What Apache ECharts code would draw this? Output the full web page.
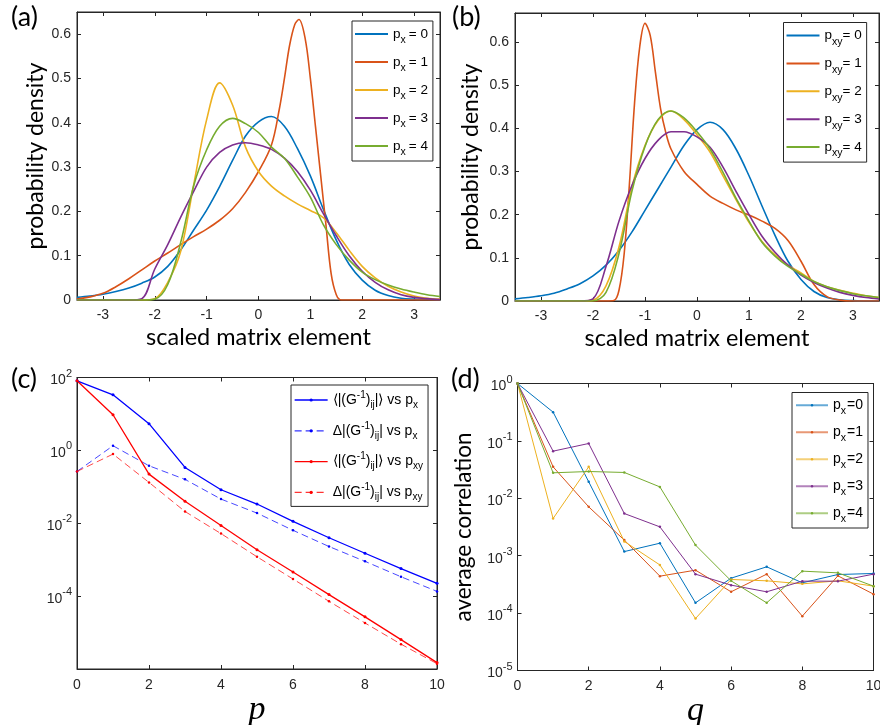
<!DOCTYPE html>
<html><head><meta charset="utf-8">
<script src="https://cdn.jsdelivr.net/npm/echarts@6/dist/echarts.min.js"></script>
<style>html,body{margin:0;padding:0;background:#fff}#c{width:880px;height:725px}</style>
</head><body><div id="c"></div>
<script>
// ---------- data ----------
const densX = [-3.5,-3.25,-3,-2.75,-2.5,-2.25,-2,-1.75,-1.5,-1.25,-1,-0.75,-0.5,-0.25,0,0.25,0.5,0.75,1,1.25,1.5,1.75,2,2.25,2.5,2.75,3,3.25,3.5];
const densTicks = [-3,-2,-1,0,1,2,3];
const densYTicks = [0,0.1,0.2,0.3,0.4,0.5,0.6];

// panel (a): p_x = 0..4
const aPx0 = [0.006,0.009,0.013,0.019,0.027,0.038,0.052,0.076,0.113,0.158,0.203,0.256,0.315,0.37,0.402,0.414,0.392,0.342,0.28,0.205,0.135,0.08,0.045,0.022,0.01,0.004,0.002,0.001,0];
const aPx1X = [-3.5,-3.25,-3,-2.75,-2.5,-2.25,-2,-1.75,-1.5,-1.25,-1,-0.75,-0.5,-0.25,0,0.25,0.4,0.5,0.6,0.7,0.78,0.9,1,1.1,1.2,1.3,1.4,1.5,1.6,1.75,2,2.5,3,3.5];
const aPx1 = [0.002,0.007,0.015,0.03,0.048,0.068,0.088,0.106,0.125,0.143,0.16,0.18,0.206,0.243,0.29,0.35,0.43,0.5,0.575,0.622,0.633,0.59,0.5,0.39,0.28,0.17,0.06,0.012,0,0,0,0,0,0];
const aPx2 = [0,0,0,0,0,0,0.003,0.04,0.11,0.26,0.407,0.49,0.44,0.345,0.29,0.257,0.235,0.217,0.202,0.186,0.152,0.112,0.076,0.05,0.031,0.018,0.009,0.004,0.002];
const aPx3 = [0,0,0,0,0,0.003,0.07,0.125,0.187,0.245,0.3,0.333,0.35,0.355,0.35,0.34,0.32,0.29,0.248,0.195,0.145,0.1,0.065,0.04,0.023,0.012,0.006,0.003,0.001];
const aPx4 = [0,0,0,0,0,0,0.002,0.035,0.13,0.258,0.339,0.392,0.41,0.398,0.378,0.345,0.32,0.278,0.232,0.17,0.125,0.09,0.063,0.046,0.034,0.025,0.018,0.012,0.008];

// panel (b): p_xy = 0..4
const bPxy0 = [0.005,0.008,0.012,0.018,0.028,0.04,0.058,0.083,0.117,0.16,0.21,0.26,0.31,0.36,0.397,0.414,0.397,0.352,0.29,0.22,0.152,0.092,0.05,0.022,0.008,0.003,0.001,0,0];
const bPxy1X = [-3.5,-3,-2.5,-2,-1.75,-1.6,-1.5,-1.4,-1.3,-1.2,-1.1,-1,-0.9,-0.8,-0.7,-0.6,-0.5,-0.25,0,0.25,0.5,0.75,1,1.25,1.5,1.75,2,2.25,2.5,2.75,3,3.5];
const bPxy1 = [0,0,0,0,0,0.001,0.025,0.11,0.27,0.46,0.59,0.643,0.615,0.53,0.445,0.39,0.352,0.3,0.27,0.243,0.226,0.211,0.199,0.185,0.168,0.14,0.092,0.038,0.01,0.002,0,0];
const bPxy2 = [0,0,0,0,0,0,0.002,0.035,0.125,0.265,0.36,0.418,0.44,0.42,0.385,0.345,0.29,0.235,0.182,0.138,0.107,0.083,0.065,0.045,0.033,0.025,0.018,0.012,0.008];
const bPxy3 = [0,0,0,0,0,0,0.005,0.08,0.185,0.268,0.33,0.372,0.392,0.392,0.38,0.356,0.31,0.254,0.2,0.15,0.113,0.083,0.06,0.043,0.03,0.02,0.013,0.008,0.005];
const bPxy4 = [0,0,0,0,0,0,0,0.02,0.11,0.255,0.358,0.42,0.44,0.424,0.392,0.352,0.298,0.238,0.185,0.136,0.104,0.08,0.062,0.045,0.033,0.024,0.017,0.012,0.008];

// panel (c)
const pValues = [0,1,2,3,4,5,6,7,8,9,10];
const cMeanPx  = [81,33.5,5.4,0.34,0.083,0.0337,0.0113,0.004,0.0015,5.7e-4,2.24e-4];
const cStdPx   = [0.264,1.34,0.378,0.16,0.046,0.019,0.0064,0.0023,9e-4,3.4e-4,1.35e-4];
const cMeanPxy = [81,9.5,0.223,0.04,0.0087,0.00188,4.6e-4,1.1e-4,2.7e-5,6.4e-6,1.5e-6];
const cStdPxy  = [0.264,0.79,0.132,0.021,0.0052,0.0012,2.95e-4,7.2e-5,1.83e-5,4.8e-6,1.4e-6];

// panel (d)
const qValues = [0,1,2,3,4,5,6,7,8,9,10];
const dPx0 = [1,0.317,0.0194,0.00118,0.00165,1.51e-4,4.06e-4,6.4e-4,3.37e-4,4.7e-4,4.9e-4];
const dPx1 = [1,0.0353,0.0071,0.00187,4.4e-4,5.6e-4,2.35e-4,4.77e-4,8.85e-5,4.46e-4,2.14e-4];
const dPx2 = [1,0.00445,0.0353,0.00177,6.9e-4,8.05e-5,3.85e-4,3.65e-4,3.23e-4,3.65e-4,2.95e-4];
const dPx3 = [1,0.0663,0.0901,0.00543,0.00318,4.77e-4,3.07e-4,2.35e-4,3.6e-4,3.6e-4,4.77e-4];
const dPx4 = [1,0.0278,0.0293,0.0282,0.0158,0.00153,3.65e-4,1.51e-4,5.38e-4,5.03e-4,2.95e-4];

const matlabColors = ['#0072BD','#D95319','#EDB120','#7E2F8E','#77AC30'];

// ---------- helpers ----------
const FONT = '"Liberation Sans", Arial, sans-serif';
const TFONT = 'Lato, "Open Sans", sans-serif';
const AX = '#262626';
const zip = (xs, ys) => xs.map((x, i) => [x, ys[i]]);

function linAxis(dim, grid, pos, min, max, ticks, labels, extra) {
  return Object.assign({
    type: 'value', gridIndex: grid, position: pos, min: min, max: max,
    axisLine: {show: true, onZero: false, lineStyle: {color: AX, width: 1}},
    axisTick: {show: true, inside: true, length: 4, customValues: ticks, lineStyle: {color: AX}},
    axisLabel: {show: labels, customValues: ticks, color: AX, fontFamily: FONT, fontSize: 14, margin: dim === 'x' ? 8 : 6},
    splitLine: {show: false}
  }, extra || {});
}
function numAxis(grid, pos, min, max, interval, labels, extra) {
  return Object.assign({
    type: 'value', gridIndex: grid, position: pos, min: min, max: max, interval: interval,
    axisLine: {show: true, onZero: false, lineStyle: {color: AX, width: 1}},
    axisTick: {show: true, inside: true, length: 4, lineStyle: {color: AX}},
    axisLabel: {show: labels, color: AX, fontFamily: FONT, fontSize: 14, margin: 9},
    splitLine: {show: false}
  }, extra || {});
}
function logAxis(grid, pos, min, max, interval, labels, hide, extra) {
  return Object.assign({
    type: 'log', logBase: 10, gridIndex: grid, position: pos, min: min, max: max, interval: interval,
    axisLine: {show: true, onZero: false, lineStyle: {color: AX, width: 1}},
    axisTick: {show: true, inside: true, length: 4, lineStyle: {color: AX}},
    axisLabel: {
      show: labels, margin: 5,
      formatter: function (v) {
        const l = Math.log10(v); const e = Math.round(l);
        if (Math.abs(l - e) > 0.01 || hide.indexOf(e) >= 0) return '';
        return '{b|10}{s|' + e + '}';
      },
      rich: {
        b: {fontFamily: FONT, fontSize: 14, color: AX, lineHeight: 20, padding: [6, 0, 0, 0]},
        s: {fontFamily: FONT, fontSize: 11, color: AX, lineHeight: 18, padding: [0, 0, 8, 0]}
      }
    },
    splitLine: {show: false}
  }, extra || {});
}
function nameStyle(size, family, italic) {
  return {fontFamily: family, fontSize: size, color: '#000', fontStyle: italic ? 'italic' : 'normal'};
}

// ---------- axes ----------
const xAxis = [
  linAxis('x', 0, 'bottom', -3.5, 3.5, densTicks, true, {name: 'scaled matrix element', nameLocation: 'middle', nameGap: 25, nameTextStyle: nameStyle(23.5, TFONT)}),
  linAxis('x', 0, 'top', -3.5, 3.5, densTicks, false),
  linAxis('x', 1, 'bottom', -3.5, 3.5, densTicks, true, {name: 'scaled matrix element', nameLocation: 'middle', nameGap: 25, nameTextStyle: nameStyle(23.5, TFONT)}),
  linAxis('x', 1, 'top', -3.5, 3.5, densTicks, false),
  numAxis(2, 'bottom', 0, 10, 2, true, {name: 'p', nameLocation: 'middle', nameGap: 15, nameTextStyle: nameStyle(34, '"Liberation Serif", serif', true)}),
  numAxis(2, 'top', 0, 10, 2, false),
  numAxis(3, 'bottom', 0, 10, 2, true, {name: 'q', nameLocation: 'middle', nameGap: 15, nameTextStyle: nameStyle(34, '"Liberation Serif", serif', true)}),
  numAxis(3, 'top', 0, 10, 2, false)
];
const yAxis = [
  linAxis('y', 0, 'left', 0, 0.65, densYTicks, true, {name: 'probability density', nameLocation: 'middle', nameGap: 30, nameTextStyle: nameStyle(23, TFONT)}),
  linAxis('y', 0, 'right', 0, 0.65, densYTicks, false),
  linAxis('y', 1, 'left', 0, 0.667, densYTicks, true, {name: 'probability density', nameLocation: 'middle', nameGap: 33, nameTextStyle: nameStyle(23, TFONT)}),
  linAxis('y', 1, 'right', 0, 0.667, densYTicks, false),
  logAxis(2, 'left', 1e-6, 100, 2, true, [-6]),
  logAxis(2, 'right', 1e-6, 100, 2, false, []),
  logAxis(3, 'left', 1e-5, 1, 1, true, [], {name: 'average correlation', nameLocation: 'middle', nameGap: 42, nameTextStyle: nameStyle(22.5, TFONT)}),
  logAxis(3, 'right', 1e-5, 1, 1, false, [])
];

const grid = [
  {left: 77, top: 12, width: 363, height: 288},
  {left: 515, top: 13, width: 364, height: 288},
  {left: 77, top: 377.5, width: 360, height: 291.5},
  {left: 517.5, top: 383.5, width: 356, height: 287}
].map(g => Object.assign({show: true, borderColor: AX, borderWidth: 1, backgroundColor: '#fff', containLabel: false, outerBoundsMode: 'none'}, g));

// ---------- series ----------
const series = [];
function densSeries(name, g, xs, ys, color) {
  series.push({name: name, type: 'line', xAxisIndex: 2 * g, yAxisIndex: 2 * g, data: zip(xs, ys),
    symbol: 'none', smooth: 0.35, color: color, lineStyle: {color: color, width: 1.6}, itemStyle: {color: color}, clip: true});
}
densSeries('a0', 0, densX, aPx0, matlabColors[0]);
densSeries('a1', 0, aPx1X, aPx1, matlabColors[1]);
densSeries('a2', 0, densX, aPx2, matlabColors[2]);
densSeries('a3', 0, densX, aPx3, matlabColors[3]);
densSeries('a4', 0, densX, aPx4, matlabColors[4]);
densSeries('b0', 1, densX, bPxy0, matlabColors[0]);
densSeries('b1', 1, bPxy1X, bPxy1, matlabColors[1]);
densSeries('b2', 1, densX, bPxy2, matlabColors[2]);
densSeries('b3', 1, densX, bPxy3, matlabColors[3]);
densSeries('b4', 1, densX, bPxy4, matlabColors[4]);

function cSeries(name, ys, color, dashed) {
  series.push({name: name, type: 'line', xAxisIndex: 4, yAxisIndex: 4, data: zip(pValues, ys),
    symbol: 'circle', symbolSize: dashed ? 2.5 : 3, showSymbol: true, color: color,
    lineStyle: {color: color, width: dashed ? 0.9 : 1.3, type: dashed ? [7, 4] : 'solid', opacity: dashed ? 0.8 : 1},
    itemStyle: {color: color}});
}
cSeries('c0', cMeanPx, '#0000FF', false);
cSeries('c1', cStdPx, '#0000FF', true);
cSeries('c2', cMeanPxy, '#FF0000', false);
cSeries('c3', cStdPxy, '#FF0000', true);

[dPx0, dPx1, dPx2, dPx3, dPx4].forEach((ys, i) => {
  series.push({name: 'd' + i, type: 'line', xAxisIndex: 6, yAxisIndex: 6, data: zip(qValues, ys),
    symbol: 'circle', symbolSize: 2.5, showSymbol: true, color: matlabColors[i],
    lineStyle: {color: matlabColors[i], width: 1}, itemStyle: {color: matlabColors[i]}});
});

// ---------- legends ----------
const legNames = {
  a0: '{n|p}{s|x}{n|= 0}', a1: '{n|p}{s|x}{n|= 1}', a2: '{n|p}{s|x}{n|= 2}', a3: '{n|p}{s|x}{n|= 3}', a4: '{n|p}{s|x}{n|= 4}',
  b0: '{n|p}{t|xy}{n|= 0}', b1: '{n|p}{t|xy}{n|= 1}', b2: '{n|p}{t|xy}{n|= 2}', b3: '{n|p}{t|xy}{n|= 3}', b4: '{n|p}{t|xy}{n|= 4}',
  c0: '{n|\u27E8|(G}{sp|-1}{n|)}{sb|ij}{n||\u27E9 vs p}{sb|x}',
  c1: '{n|\u0394|(G}{sp|-1}{n|)}{sb|ij}{n|| vs p}{sb|x}',
  c2: '{n|\u27E8|(G}{sp|-1}{n|)}{sb|ij}{n||\u27E9 vs p}{sb|xy}',
  c3: '{n|\u0394|(G}{sp|-1}{n|)}{sb|ij}{n|| vs p}{sb|xy}',
  d0: '{n|p}{s|x}{n|=0}', d1: '{n|p}{s|x}{n|=1}', d2: '{n|p}{s|x}{n|=2}', d3: '{n|p}{s|x}{n|=3}', d4: '{n|p}{s|x}{n|=4}'
};
const fmt = n => legNames[n];
const baseLegend = {orient: 'vertical', selectedMode: false, borderColor: AX, borderWidth: 1, backgroundColor: '#fff', borderRadius: 0, formatter: fmt, align: 'left'};
const richAB = {
  n: {fontFamily: FONT, fontSize: 13.5, color: '#000', lineHeight: 25},
  s: {fontFamily: FONT, fontSize: 10.5, color: '#000', lineHeight: 12, padding: [13, 3, 0, 0]},
  t: {fontFamily: FONT, fontSize: 10.5, color: '#000', lineHeight: 12, padding: [13, 0, 0, 0]}
};
const legend = [
  Object.assign({}, baseLegend, {data: ['a0','a1','a2','a3','a4'], left: 352, top: 21, padding: [1, 5, 3, 3], itemWidth: 33, itemHeight: 2, itemGap: 4, icon: 'rect', textStyle: {rich: richAB}}),
  Object.assign({}, baseLegend, {data: ['b0','b1','b2','b3','b4'], left: 783.5, top: 22.5, padding: [1, 5, 3, 3], itemWidth: 33, itemHeight: 2, itemGap: 3.9, icon: 'rect', textStyle: {rich: richAB}}),
  Object.assign({}, baseLegend, {data: ['c0','c1','c2','c3'], left: 291, top: 385, padding: [5, 5, 4, 3], itemWidth: 33, itemHeight: 4, itemGap: 10.8,
    lineStyle: {width: 1.3}, textStyle: {rich: {
      n: {fontFamily: FONT, fontSize: 14, color: '#000', lineHeight: 24},
      sp: {fontFamily: FONT, fontSize: 10, color: '#000', lineHeight: 14, padding: [0, 0, 10, 0]},
      sb: {fontFamily: FONT, fontSize: 10, color: '#000', lineHeight: 14, padding: [10, 0, 0, 0]}
    }}}),
  Object.assign({}, baseLegend, {data: ['d0','d1','d2','d3','d4'], left: 792, top: 392.5, padding: [1, 5, 3, 3], itemWidth: 32, itemHeight: 3, itemGap: 3.5,
    lineStyle: {width: 2, opacity: 0.6}, textStyle: {rich: {
      n: {fontFamily: FONT, fontSize: 14, color: '#000', lineHeight: 24.5},
      s: {fontFamily: FONT, fontSize: 10.5, color: '#000', lineHeight: 12, padding: [12.5, 1, 0, 0]}
    }}})
];

const titleStyle = {fontFamily: TFONT, fontSize: 27, fontWeight: 'normal', color: '#000'};
const title = [
  {text: '(a)', left: 11, top: 4, padding: 0, textStyle: titleStyle},
  {text: '(b)', left: 452, top: 4, padding: 0, textStyle: titleStyle},
  {text: '(c)', left: 11, top: 366, padding: 0, textStyle: titleStyle},
  {text: '(d)', left: 451, top: 366, padding: 0, textStyle: titleStyle}
];

const chart = echarts.init(document.getElementById('c'), null, {renderer: 'canvas'});
chart.setOption({animation: false, backgroundColor: '#fff', title, grid, xAxis, yAxis, legend, series});
</script></body></html>
